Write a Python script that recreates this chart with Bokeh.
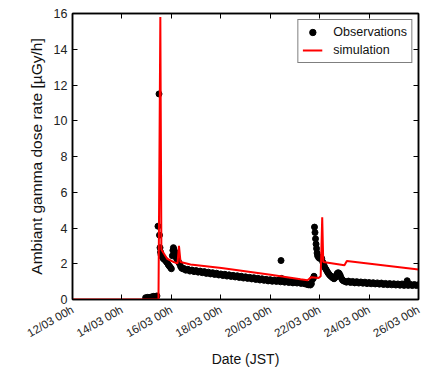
from bokeh.plotting import figure
from bokeh.models import Range1d, FixedTicker, LinearAxis, Legend, LegendItem
from bokeh.embed import file_html
from bokeh.resources import INLINE

# time axis: hours since 12/03 00h (JST)
x_tick_hours = [0, 48, 96, 144, 192, 240, 288, 336]
x_tick_labels = ["12/03 00h", "14/03 00h", "16/03 00h", "18/03 00h",
                 "20/03 00h", "22/03 00h", "24/03 00h", "26/03 00h"]
y_ticks = [0, 2, 4, 6, 8, 10, 12, 14, 16]

obs_hours = [71, 73, 75, 77, 79, 81, 82,
             83, 84, 84.5, 85, 85.5, 86, 87, 88, 89, 90, 91, 92, 93, 94, 95, 96,
             97, 97.5, 98, 98.5, 99, 99.5, 100, 101, 102, 103, 104, 105, 106, 107,
             108, 110, 112, 114, 116, 118, 120, 122, 124, 126, 128, 130, 132, 134,
             136, 138, 140, 142, 144, 146, 148, 150, 152, 154, 156, 158, 160, 162,
             164, 166, 168, 170, 172, 174, 176, 178, 180, 182, 184, 186, 188, 190,
             192, 194, 196, 198, 200, 202, 202.5, 203, 204, 206, 208, 210, 212, 214,
             216, 218, 220, 222, 224, 226, 228, 229, 230, 231, 232, 233, 234, 234.5,
             235, 235.5, 236, 236.5, 237, 237.5, 238, 239, 240, 241, 242, 243, 244,
             245, 246, 247, 248, 249, 250, 251, 252, 253, 254, 255, 256, 257, 258,
             259, 260, 261, 262, 263, 264,
             266, 268, 270, 272, 274, 276, 278, 280, 282, 284, 286, 288, 290, 292,
             294, 296, 298, 300, 302, 304, 306, 308, 310, 312, 314, 316, 318, 320,
             322, 324, 325, 326, 328, 330, 332, 334, 336]
obs_values = [0.10, 0.12, 0.11, 0.15, 0.18, 0.16, 0.20,
              4.1, 11.5, 3.6, 2.9, 2.65, 2.5, 2.4, 2.3, 2.25, 2.2, 2.12, 2.05, 1.95, 1.87, 1.8, 1.72,
              2.45, 2.75, 2.9, 2.8, 2.55, 2.65, 2.5, 2.3, 2.2, 2.1, 2.0, 1.85, 1.76, 1.72,
              1.74, 1.64, 1.69, 1.59, 1.65, 1.56, 1.62, 1.53, 1.59, 1.50, 1.56, 1.46, 1.53, 1.43,
              1.50, 1.40, 1.47, 1.37, 1.43, 1.34, 1.41, 1.31, 1.38, 1.29, 1.35, 1.26, 1.33, 1.23,
              1.30, 1.20, 1.27, 1.18, 1.24, 1.15, 1.22, 1.12, 1.19, 1.09, 1.16, 1.07, 1.13, 1.04,
              1.11, 1.02, 1.09, 1.01, 1.08, 0.99, 2.18, 1.18, 1.06, 0.97, 1.04, 0.95, 1.02, 0.93,
              1.00, 0.92, 0.98, 0.90, 0.92, 0.87, 0.85, 0.82, 0.85, 0.81, 0.88, 1.12, 1.2, 1.3,
              4.05, 3.75, 3.4, 3.1, 2.85, 2.6, 2.45, 2.35, 2.3, 2.35, 2.3, 2.1, 1.95,
              1.8, 1.7, 1.6, 1.5, 1.42, 1.35, 1.3, 1.25, 1.2, 1.16, 1.22, 1.33, 1.45, 1.5,
              1.46, 1.35, 1.2, 1.1, 1.05, 1.02,
              0.97, 1.03, 0.95, 1.01, 0.93, 1.00, 0.92, 0.98, 0.91, 0.97, 0.89, 0.95, 0.88, 0.94,
              0.87, 0.93, 0.86, 0.92, 0.84, 0.90, 0.83, 0.89, 0.82, 0.88, 0.81, 0.87, 0.80, 0.87,
              0.79, 0.86, 1.05, 0.79, 0.85, 0.78, 0.84, 0.78, 0.83]

sim_hours = [0, 83.5, 85.3, 86.3, 91.9, 98.4, 102, 103.4, 104.9, 114.6, 144.7, 192.3,
             221.4, 228.2, 232, 238.9, 241, 242.5, 243.5, 264.1, 266.4, 336]
sim_values = [0, 0, 15.8, 2.8, 2.28, 2.09, 2.02, 3.0, 2.1, 1.96, 1.76, 1.39,
              1.13, 1.08, 1.25, 1.2, 1.3, 4.6, 2.1, 1.92, 2.15, 1.68]

FONT = "Liberation Sans"

p = figure(width=427, height=370, output_backend="svg", toolbar_location=None,
           x_range=Range1d(0, 336), y_range=Range1d(0, 16),
           min_border_left=72, min_border_right=9, min_border_top=13, min_border_bottom=69)
p.grid.visible = False
p.outline_line_color = "black"
p.outline_line_width = 1.5
p.background_fill_color = "white"
p.border_fill_color = "white"

obs_r = p.scatter(obs_hours, obs_values, size=6, color="black")
sim_r = p.line(sim_hours, sim_values, color="#ff0000", line_width=2)

xt = FixedTicker(ticks=x_tick_hours)
yt = FixedTicker(ticks=y_ticks)
p.xaxis.ticker = xt
p.yaxis.ticker = yt
p.xaxis.major_label_overrides = {h: lab for h, lab in zip(x_tick_hours, x_tick_labels)}
p.xaxis.axis_label = "Date (JST)"
p.yaxis.axis_label = "Ambiant gamma dose rate [\u00b5Gy/h]"

for ax in (p.xaxis[0], p.yaxis[0]):
    ax.major_tick_in = 5
    ax.major_tick_out = 0
    ax.minor_tick_in = 0
    ax.minor_tick_out = 0
    ax.axis_line_color = "black"
    ax.axis_line_width = 1.5
    ax.major_tick_line_width = 1
    ax.major_label_text_font = FONT
    ax.major_label_text_font_size = "12.5px"
    ax.major_label_text_color = "#222222"
    ax.major_label_standoff = 5
    ax.axis_label_text_font = FONT
    ax.axis_label_text_font_style = "normal"
    ax.axis_label_text_color = "#111111"
    ax.axis_label_standoff = 6

xa = p.xaxis[0]
xa.major_label_orientation = 0.52
xa.major_label_text_font_size = "11.5px"
xa.major_label_standoff = 9
xa.axis_label_text_font_size = "14px"
xa.axis_label_standoff = 4
p.yaxis[0].axis_label_text_font_size = "15.5px"

for side, tk in (("above", xt), ("right", yt)):
    ax = LinearAxis(ticker=tk)
    ax.major_tick_in = 5
    ax.major_tick_out = 0
    ax.minor_tick_in = 0
    ax.minor_tick_out = 0
    ax.axis_line_color = "black"
    ax.axis_line_width = 1.5
    ax.major_label_text_font_size = "0px"
    ax.major_label_text_color = None
    ax.major_label_standoff = 0
    p.add_layout(ax, side)

legend = Legend(items=[LegendItem(label="Observations", renderers=[obs_r]),
                       LegendItem(label="simulation", renderers=[sim_r])],
                location="top_right", margin=6, padding=4, spacing=2,
                glyph_height=16, label_height=16, glyph_width=20, label_standoff=11,
                label_text_font=FONT, label_text_font_size="12.5px",
                label_text_color="#111111",
                border_line_color="black", border_line_width=1.5,
                background_fill_color="white", background_fill_alpha=1)
p.add_layout(legend)

open("out.html", "w").write(file_html(p, INLINE))
